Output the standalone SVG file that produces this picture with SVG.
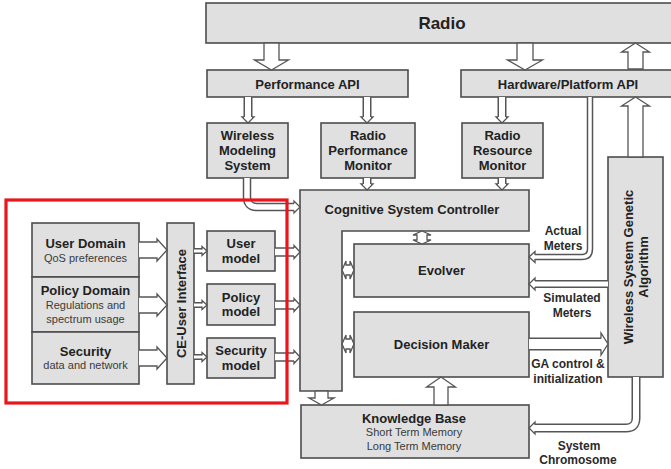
<svg xmlns="http://www.w3.org/2000/svg" width="671" height="469" viewBox="0 0 671 469">
  <style>
    .box { fill: #e0e0e0; stroke: #4d4d4d; stroke-width: 1.6; }
    .hollow { fill: #ffffff; stroke: #555555; stroke-width: 1.3; stroke-linejoin: miter; }
    .out { fill: none; stroke: #555555; }
    .in { fill: none; stroke: #ffffff; }
    text { font-family: "Liberation Sans", Arial, sans-serif; fill: #222222; text-anchor: middle; }
    .b { font-weight: bold; font-size: 13px; }
    .big { font-weight: bold; font-size: 17px; }
    .s { font-size: 11px; fill: #3a3a3a; }
    .lbl { font-weight: bold; font-size: 12px; fill: #2a2a2a; }
  </style>

  <rect width="671" height="469" fill="#ffffff"/>

  <!-- upper layer -->
  <g id="radio"><rect class="box" x="206" y="3" width="472" height="40"/><text class="big" x="442" y="29">Radio</text></g>
  <g id="performance-api"><rect class="box" x="207" y="70" width="201" height="27"/><text class="b" x="307.5" y="88.5">Performance API</text></g>
  <g id="hardware-api"><rect class="box" x="461" y="70" width="217" height="27"/><text class="b" x="568" y="88.5">Hardware/Platform API</text></g>

  <g id="wireless-modeling"><rect class="box" x="207" y="123" width="81" height="55"/>
    <text class="b" x="247.5" y="139.5">Wireless</text><text class="b" x="247.5" y="154.5">Modeling</text><text class="b" x="247.5" y="169.5">System</text></g>
  <g id="radio-performance-monitor"><rect class="box" x="321" y="123" width="94" height="55"/>
    <text class="b" x="368" y="139.5">Radio</text><text class="b" x="368" y="154.5">Performance</text><text class="b" x="368" y="169.5">Monitor</text></g>
  <g id="radio-resource-monitor"><rect class="box" x="462" y="123" width="81" height="55"/>
    <text class="b" x="502.5" y="139.5">Radio</text><text class="b" x="502.5" y="154.5">Resource</text><text class="b" x="502.5" y="169.5">Monitor</text></g>

  <!-- cognitive engine core -->
  <g id="system-controller"><path class="box" d="M300,190 H529 V231 H342 V391 H300 Z"/>
    <text class="b" x="412" y="213.5">Cognitive System Controller</text></g>
  <g id="evolver"><rect class="box" x="354" y="244" width="175" height="53"/><text class="b" x="441.5" y="275">Evolver</text></g>
  <g id="decision-maker"><rect class="box" x="354" y="312" width="175" height="65"/><text class="b" x="441.5" y="348.5">Decision Maker</text></g>
  <g id="knowledge-base"><rect class="box" x="301" y="405" width="228" height="53"/>
    <text class="b" x="414" y="422.5">Knowledge Base</text>
    <text class="s" x="414" y="436">Short Term Memory</text>
    <text class="s" x="414" y="450">Long Term Memory</text></g>
  <g id="genetic-algorithm"><rect class="box" x="608" y="157" width="55" height="220"/>
    <text class="b" transform="translate(628,267) rotate(-90)" y="4.5">Wireless System Genetic</text>
    <text class="b" transform="translate(643,267) rotate(-90)" y="4.5">Algorithm</text></g>

  <!-- user side -->
  <g id="user-domain"><rect class="box" x="32" y="223" width="107" height="54"/>
    <text class="b" x="85.5" y="247.5">User Domain</text><text class="s" x="85.5" y="262">QoS preferences</text></g>
  <g id="policy-domain"><rect class="box" x="32" y="277" width="107" height="55"/>
    <text class="b" x="85.5" y="294.5">Policy Domain</text><text class="s" x="85.5" y="309">Regulations and</text><text class="s" x="85.5" y="322.5">spectrum usage</text></g>
  <g id="security-domain"><rect class="box" x="32" y="332" width="107" height="52"/>
    <text class="b" x="85.5" y="355.5">Security</text><text class="s" x="85.5" y="369">data and network</text></g>
  <g id="ce-user-interface"><rect class="box" x="167" y="223" width="27" height="161"/>
    <text class="b" transform="translate(181,303.5) rotate(-90)" y="4.5">CE-User Interface</text></g>
  <g id="user-model"><rect class="box" x="207" y="231" width="68" height="40"/>
    <text class="b" x="241" y="247.5">User</text><text class="b" x="241" y="262.5">model</text></g>
  <g id="policy-model"><rect class="box" x="207" y="284" width="68" height="41"/>
    <text class="b" x="241" y="301.5">Policy</text><text class="b" x="241" y="315.5">model</text></g>
  <g id="security-model"><rect class="box" x="207" y="338" width="68" height="40"/>
    <text class="b" x="241" y="354.5">Security</text><text class="b" x="241" y="369.5">model</text></g>

  <!-- connectors -->
  <g id="connectors">
    <!-- broad hollow arrows -->
    <polyline class="hollow" points="264,43 279,43 279,60 288.5,60 271.5,70 254.5,60 264,60 264,43"/>
    <polyline class="hollow" points="517,43 533,43 533,60 542.5,60 525,70 507.5,60 517,60 517,43"/>
    <polyline class="hollow" points="628,69 643,69 643,52 649.5,52 635.5,43 621.5,52 628,52 628,69"/>
    <polyline class="hollow" points="628,157 643,157 643,106 649.5,106 635.5,97 621.5,106 628,106 628,157"/>
    <polyline class="hollow" points="434,405 448,405 448,387 455.5,387 441,377 426.5,387 434,387 434,405"/>
    <polyline class="hollow" points="315,391 328,391 328,398 334,398 321.5,405 309,398 315,398 315,391"/>

    <!-- domains into the CE-user interface -->
    <polyline class="hollow" points="139,242 157,242 157,239 167,250 157,261 157,258 139,258"/>
    <polyline class="hollow" points="139,297 157,297 157,294 167,305 157,316 157,313 139,313"/>
    <polyline class="hollow" points="139,350 157,350 157,347 167,358 157,369 157,366 139,366"/>

    <!-- two-way links between controller, evolver and decision maker -->
    <polygon class="hollow" points="422,231 431,235 427,235 427,240 431,240 422,244 413,240 417,240 417,235 413,235"/>
    <polygon class="hollow" points="342,270 346,261 346,265 350,265 350,261 354,270 350,279 350,275 346,275 346,279"/>
    <polygon class="hollow" points="342,344 346,335 346,339 350,339 350,335 354,344 350,353 350,349 346,349 346,353"/>

    <!-- narrow double-line links: vertical -->
    <path class="out" stroke-width="9" d="M248,97 V117"/><path class="in" stroke-width="6" d="M248,97 V117"/>
    <polyline class="hollow" points="244,117 242,117 248,123 254,117 252,117"/>
    <path class="out" stroke-width="9" d="M367,97 V117"/><path class="in" stroke-width="6" d="M367,97 V117"/>
    <polyline class="hollow" points="363,117 361,117 367,123 373,117 371,117"/>
    <path class="out" stroke-width="9" d="M502,97 V117"/><path class="in" stroke-width="6" d="M502,97 V117"/>
    <polyline class="hollow" points="498,117 496,117 502,123 508,117 506,117"/>
    <path class="out" stroke-width="9" d="M367,178 V184"/><path class="in" stroke-width="6" d="M367,178 V184"/>
    <polyline class="hollow" points="363,184 361,184 367,190 373,184 371,184"/>
    <path class="out" stroke-width="9" d="M502,178 V184"/><path class="in" stroke-width="6" d="M502,178 V184"/>
    <polyline class="hollow" points="498,184 496,184 502,190 508,184 506,184"/>

    <!-- modeling system into the controller -->
    <path class="out" stroke-width="8.5" d="M247,178 V197 Q247,207 257,207 H294"/>
    <path class="in" stroke-width="5.5" d="M247,178 V197 Q247,207 257,207 H294"/>
    <polyline class="hollow" points="294,203.5 294,201 300,207 294,213 294,210.5"/>

    <!-- CE-user interface to models -->
    <path class="out" stroke-width="6" d="M194,251 H202"/><path class="in" stroke-width="3" d="M194,251 H202"/>
    <polyline class="hollow" points="202,249.5 202,246.5 207,251 202,255.5 202,252.5"/>
    <path class="out" stroke-width="6" d="M194,305 H202"/><path class="in" stroke-width="3" d="M194,305 H202"/>
    <polyline class="hollow" points="202,303.5 202,300.5 207,305 202,309.5 202,306.5"/>
    <path class="out" stroke-width="6" d="M194,357 H202"/><path class="in" stroke-width="3" d="M194,357 H202"/>
    <polyline class="hollow" points="202,355.5 202,352.5 207,357 202,361.5 202,358.5"/>

    <!-- models to the controller -->
    <path class="out" stroke-width="9.5" d="M275,252 H294"/><path class="in" stroke-width="6.5" d="M275,252 H294"/>
    <polyline class="hollow" points="294,248 294,245.5 300,252 294,258.5 294,256"/>
    <path class="out" stroke-width="9.5" d="M275,305 H294"/><path class="in" stroke-width="6.5" d="M275,305 H294"/>
    <polyline class="hollow" points="294,301 294,298.5 300,305 294,311.5 294,309"/>
    <path class="out" stroke-width="9.5" d="M275,357 H294"/><path class="in" stroke-width="6.5" d="M275,357 H294"/>
    <polyline class="hollow" points="294,353 294,350.5 300,357 294,363.5 294,361"/>

    <!-- actual meters -->
    <path class="out" stroke-width="6.5" d="M590,97 V249 Q590,257 582,257 H535"/>
    <path class="in" stroke-width="3.5" d="M590,97 V249 Q590,257 582,257 H535"/>
    <polyline class="hollow" points="535,255 535,251.5 529,257 535,262.5 535,259"/>

    <!-- simulated meters -->
    <path class="out" stroke-width="8" d="M608,284 H535"/><path class="in" stroke-width="5" d="M608,284 H535"/>
    <polyline class="hollow" points="535,281 535,278 529,284 535,290 535,287"/>

    <!-- GA control and initialization -->
    <path class="out" stroke-width="13" d="M529,344 H601"/><path class="in" stroke-width="10" d="M529,344 H601"/>
    <polyline class="hollow" points="601,338.5 601,333 608,344 601,355 601,349.5"/>

    <!-- system chromosome -->
    <path class="out" stroke-width="9" d="M636,377 V418 Q636,428 626,428 H535"/>
    <path class="in" stroke-width="6" d="M636,377 V418 Q636,428 626,428 H535"/>
    <polyline class="hollow" points="535,425 535,422 529,428 535,434 535,431"/>
  </g>

  <!-- connector labels -->
  <g id="labels">
    <text class="lbl" x="563" y="234.5">Actual</text><text class="lbl" x="563" y="249.5">Meters</text>
    <text class="lbl" x="572" y="301.5">Simulated</text><text class="lbl" x="572" y="316.5">Meters</text>
    <text class="lbl" x="568" y="368">GA control &amp;</text><text class="lbl" x="568" y="382.5">initialization</text>
    <text class="lbl" x="579" y="449.5">System</text><text class="lbl" x="578" y="463.5">Chromosome</text>
  </g>

  <!-- highlight frame around the user-facing part -->
  <rect id="highlight" x="6" y="200" width="281" height="203" fill="none" stroke="#e8161c" stroke-width="3.2"/>
</svg>
